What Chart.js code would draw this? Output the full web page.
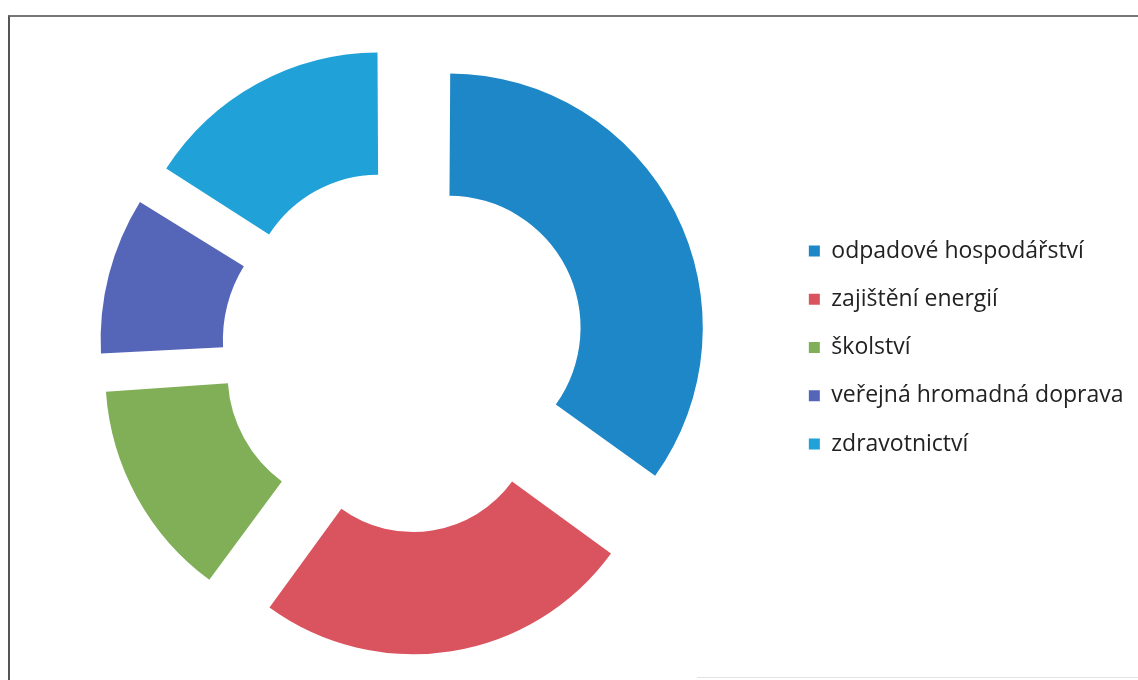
<!DOCTYPE html>
<html><head><meta charset="utf-8">
<script src="https://cdn.jsdelivr.net/npm/chart.js@4/dist/chart.umd.min.js"></script>
<style>
html,body{margin:0;padding:0;background:#fff;}
#wrap{position:relative;width:1138px;height:680px;overflow:hidden;background:#fff;}
#frame{position:absolute;left:8px;top:15px;width:1200px;height:700px;border-left:2px solid #555;border-top:2px solid #777;}
#bline{position:absolute;left:697px;top:677px;width:441px;height:1px;background:#e4e4e4;}
canvas{position:absolute;left:0;top:0;}
</style></head><body>
<div id="wrap"><div id="frame"></div><div id="bline"></div><canvas id="c" width="1138" height="680"></canvas></div>
<script>
const categories = ['odpadové hospodářství', 'zajištění energií', 'školství', 'veřejná hromadná doprava', 'zdravotnictví'];
const values = [35, 25, 14, 10, 16];
const colors = ['#1E87C8', '#D9545F', '#80AF57', '#5566B8', '#20A2D8'];

const EXPLODE = 60;
const total = values.reduce((a, b) => a + b, 0);
function offsetFor(v) {
  const circ = v / total * 2 * Math.PI;
  const fix = 1 - Math.sin(Math.min(Math.PI, circ));
  return 4 * EXPLODE / (1 + fix);
}

new Chart(document.getElementById('c'), {
  type: 'doughnut',
  data: {
    labels: categories,
    datasets: [{
      data: values,
      backgroundColor: colors,
      borderWidth: 0,
      offset: ctx => offsetFor(values[ctx.dataIndex]),
      hoverOffset: 0,
      clip: false
    }]
  },
  options: {
    responsive: false,
    animation: false,
    events: [],
    radius: 244.5,
    cutout: '50%',
    layout: { padding: { left: 24, right: 4.5, top: 15, bottom: 0 } },
    plugins: {
      title: {
        display: true,
        text: '',
        fullSize: false,
        position: 'top',
        font: { size: 5 },
        padding: { top: 0, bottom: 0 }
      },
      legend: {
        position: 'right',
        labels: {
          boxWidth: 11, boxHeight: 11, padding: 25.25,
          font: { family: 'Open Sans', size: 23 },
          color: '#222'
        }
      },
      tooltip: { enabled: false }
    }
  }
});
</script>
</body></html>
